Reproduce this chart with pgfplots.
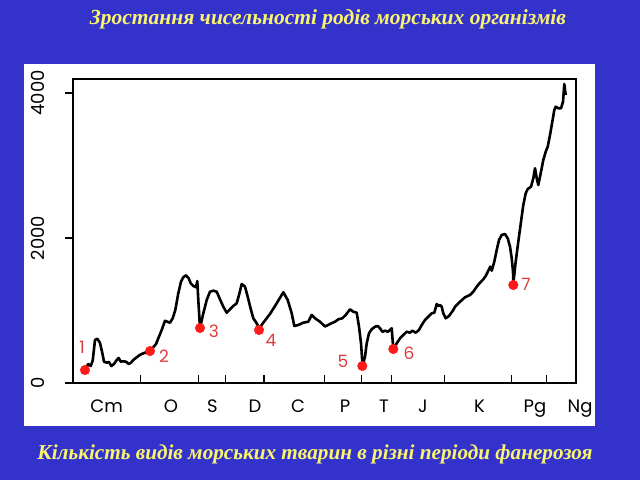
\documentclass[border=0pt]{standalone}
\usepackage{pgfplots}
\pgfplotsset{compat=1.18}
\usepackage{fontspec}
\setmainfont{Liberation Serif}
\newfontfamily\popfont{Poppins}
\definecolor{bgblue}{HTML}{3333CC}
\definecolor{ttlyellow}{RGB}{250,245,110}
\definecolor{ptred}{RGB}{255,25,25}
\definecolor{lblred}{RGB}{225,60,60}
\begin{document}
\begin{tikzpicture}[x=1bp,y=1bp]
\fill[bgblue] (0,0) rectangle (640,480);
\fill[white] (24,54) rectangle (595,416);
\node[font=\fontsize{21.5bp}{24bp}\selectfont\bfseries\itshape, text=ttlyellow] at (328,461) {Зростання чисельності родів морських організмів};
\node[font=\fontsize{21.2bp}{24bp}\selectfont\bfseries\itshape, text=ttlyellow] at (315,26) {Кількість видів морських тварин в різні періоди фанерозоя};
\begin{axis}[
  at={(73bp,97bp)}, anchor=south west,
  scale only axis, width=503bp, height=304bp,
  xmin=73, xmax=576, ymin=0, ymax=4192,
  axis line style={line width=1.4bp, black},
  tick style={line width=1.4bp, black},
  tick align=inside, tick pos=left,
  major tick length=8bp,
  xtick={140.7,198.3,225.7,264,324.3,361.7,391.7,444.3,511.7,546.7},
  xticklabels={},
  extra x ticks={106.7,171,212.5,255,298,345,384,423,479.5,535,575},
  extra x tick labels={Cm,O,S,D,C,P,T,J,K,Pg,{\hspace{10bp}Ng}},
  extra x tick style={major tick length=0pt,
     xticklabel style={anchor=base, inner sep=0pt, yshift=-30bp, font=\popfont\fontsize{18bp}{20bp}\selectfont}},
  ytick={0,2000,4000}, yticklabels={0,2000,4000},
  scaled y ticks=false,
  ytick style={xshift=-8bp},
  yticklabel style={rotate=90, anchor=south, inner sep=0pt, font=\popfont\fontsize{18bp}{20bp}\selectfont},
  yticklabel shift=28bp,
  /pgf/number format/assume math mode=true,
]
\addplot[black, line width=2.6bp, line join=round] coordinates {
(84.7,179) (88.3,262) (90.7,234) (92.7,308) (95,593) (97.3,611) (100,552) (102.3,414)
(104,294) (106.7,280) (109,290) (111.3,234) (114,262) (116.7,317) (118.7,345) (120.7,294)
(123.3,299) (126,294) (128.7,262) (131,280) (133.3,317) (136.7,354) (139.3,382) (141.7,400)
(145,418) (150,445) (153.3,492) (156,538) (158.3,616) (161.7,731) (165,859) (167.3,845)
(170,832) (172.7,892) (175.3,1007) (178.3,1237) (181,1397) (183.3,1458) (186,1485) (188.7,1444)
(190.7,1375) (193.3,1338) (196,1320) (197.3,1407) (198.3,1145) (200,758)
(203.3,961) (206.7,1145) (210,1259) (213.3,1273) (216.7,1259) (220,1154) (223.3,1052)
(226.7,969) (230,1016) (233.3,1062) (236.7,1099) (239,1214) (241.7,1365) (245,1328)
(247.7,1190) (251,1007) (253.3,892) (256.7,823) (259.3,754)
(263.3,832) (270,952) (276.7,1099) (283.3,1251) (287.7,1145) (291.7,961) (294.3,786)
(298.3,800) (303.3,832) (308.3,845) (311.7,938) (315,892) (320,845) (325,779) (330,814)
(335,845) (338.3,878) (342.3,892) (345.7,938) (350,1016) (353.3,983) (356.7,969) (359,776)
(361,547) (362.3,294) (362.5,234)
(365,363) (366.7,547) (369,685) (371.7,741) (375,776) (377.7,786) (380,754) (382.3,707)
(385,721) (387.7,707) (390,731) (391.7,754) (393.3,465)
(396.7,547) (400,616) (403.3,662) (406.7,707) (410,694) (412.3,721) (415.7,694) (419,731)
(421.7,800) (425,869) (427.7,906) (430,938) (431.7,961) (434.3,969) (436.7,1089) (438.3,1062)
(440,1076) (441.7,1052) (443.3,961) (445.7,892) (449,924) (453.3,1007) (455,1052) (460,1121)
(465,1182) (470,1214) (473.3,1259) (476.7,1328) (480,1383) (483.3,1430) (485.7,1476)
(489,1568) (490.3,1604) (491.7,1549) (494.3,1673) (496.7,1834) (499,1972) (501.7,2041)
(505,2055) (507.7,1995) (510,1880) (511.7,1720) (513,1535) (513.3,1365)
(515.7,1673) (518.3,1949) (521,2224) (523.3,2455) (525.7,2616) (527.7,2675) (531,2707)
(533.3,2823) (535,2961) (536.7,2823) (538.3,2730) (541,2914) (543.3,3075) (545.7,3190)
(547.7,3259) (550,3420) (552.3,3603) (554.3,3765) (555.7,3810) (558.3,3788) (561,3788)
(563,3879) (564.3,4123) (565,4040) (565.7,3972)
};
\addplot[only marks, mark=*, mark size=4.8bp, color=ptred] coordinates {
(85,179) (150,441) (200,758) (259,731) (362.3,234) (393.3,469) (513.3,1351)
};
\node[text=lblred, font=\popfont\fontsize{17bp}{19bp}\selectfont] at (axis cs:82,496) {1};
\node[text=lblred, font=\popfont\fontsize{17bp}{19bp}\selectfont] at (axis cs:164,372) {2};
\node[text=lblred, font=\popfont\fontsize{17bp}{19bp}\selectfont] at (axis cs:214,717) {3};
\node[text=lblred, font=\popfont\fontsize{17bp}{19bp}\selectfont] at (axis cs:271,593) {4};
\node[text=lblred, font=\popfont\fontsize{17bp}{19bp}\selectfont] at (axis cs:343,303) {5};
\node[text=lblred, font=\popfont\fontsize{17bp}{19bp}\selectfont] at (axis cs:409,414) {6};
\node[text=lblred, font=\popfont\fontsize{17bp}{19bp}\selectfont] at (axis cs:526,1365) {7};
\end{axis}
\end{tikzpicture}
\end{document}
